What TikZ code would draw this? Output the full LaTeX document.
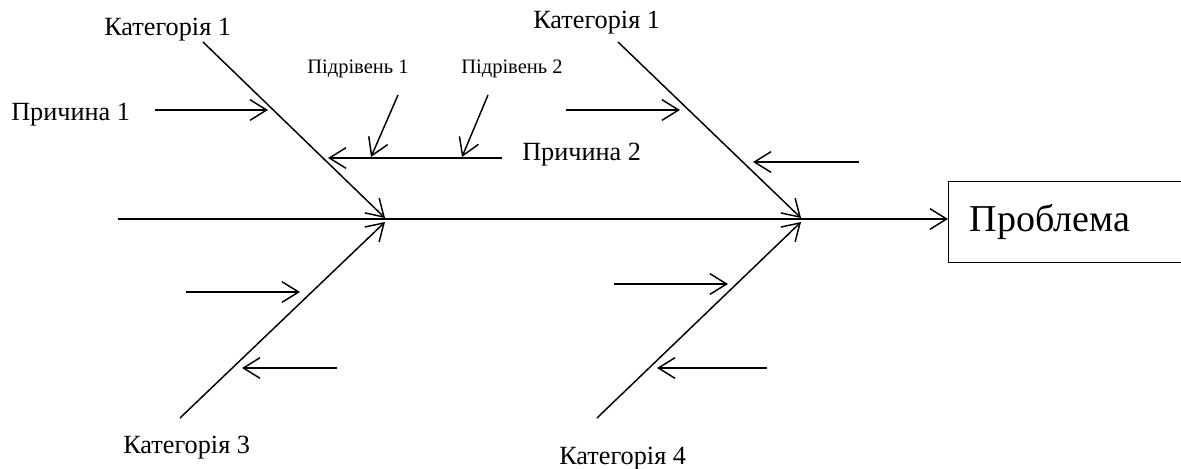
\documentclass[tikz,border=0pt]{standalone}
\usepackage{fontspec}
\setmainfont{Liberation Serif}
\usetikzlibrary{arrows.meta}
\begin{document}
\begin{tikzpicture}[x=0.75pt,y=-0.75pt,
  bone/.style={line width=1.1pt,-{Straight Barb[length=12.5pt,width=15.5pt,line width=1.1pt]}},
  lbl/.style={inner sep=0pt,anchor=base west,font=\fontsize{19.7pt}{22pt}\selectfont},
  sublbl/.style={inner sep=0pt,anchor=base west,font=\fontsize{15.4pt}{18pt}\selectfont},
  probbox/.style={draw,line width=1pt,anchor=north west,minimum width=181.5pt,minimum height=60.75pt,
    text width=150pt,inner xsep=15.75pt,align=left,font=\fontsize{28.5pt}{32pt}\selectfont}]
\useasboundingbox (0,0) rectangle (1181,468);

% problem box and spine
\node[probbox] (prob) at (948,181) {Проблема};
\coordinate (tail) at (118,219);
\coordinate (j1) at (385,218);
\coordinate (j2) at (801,218);
\coordinate (j3) at (385,222);
\coordinate (j4) at (801,222);
\draw[bone] (tail) -- (prob.west |- tail);

% category bones
\coordinate (b1) at (203,42);
\coordinate (b2) at (618,42);
\coordinate (b3) at (180,418);
\coordinate (b4) at (597,418);
\draw[bone] (b1) -- (j1);
\draw[bone] (b2) -- (j2);
\draw[bone] (b3) -- (j3);
\draw[bone] (b4) -- (j4);

% cause arrows
\coordinate (c1s) at (155,110); \coordinate (c1e) at (268,110);
\coordinate (c2s) at (502,158); \coordinate (c2e) at (328,158);
\coordinate (s1s) at (398,95);  \coordinate (s1e) at (371,157);
\coordinate (s2s) at (488,95);  \coordinate (s2e) at (462,157);
\coordinate (c3s) at (566,110); \coordinate (c3e) at (680,110);
\coordinate (c4s) at (859,162); \coordinate (c4e) at (753,162);
\coordinate (c5s) at (186,292); \coordinate (c5e) at (300,292);
\coordinate (c6s) at (337,368); \coordinate (c6e) at (242,368);
\coordinate (c7s) at (614,284); \coordinate (c7e) at (728,284);
\coordinate (c8s) at (767,368); \coordinate (c8e) at (657,368);
\foreach \c in {c1,c2,s1,s2,c3,c4,c5,c6,c7,c8}
  \draw[bone] (\c s) -- (\c e);

% labels
\node[lbl] (k1) at (104,35) {Категорія 1};
\node[lbl] (k2) at (533,28) {Категорія 1};
\node[lbl] (k3) at (123,453) {Категорія 3};
\node[lbl] (k4) at (559,464) {Категорія 4};
\node[lbl] (p1) at (11,120) {Причина 1};
\node[lbl] (p2) at (522,160) {Причина 2};
\node[sublbl] (sub1) at (307,73) {Підрівень 1};
\node[sublbl] (sub2) at (461,73) {Підрівень 2};
\end{tikzpicture}
\end{document}
